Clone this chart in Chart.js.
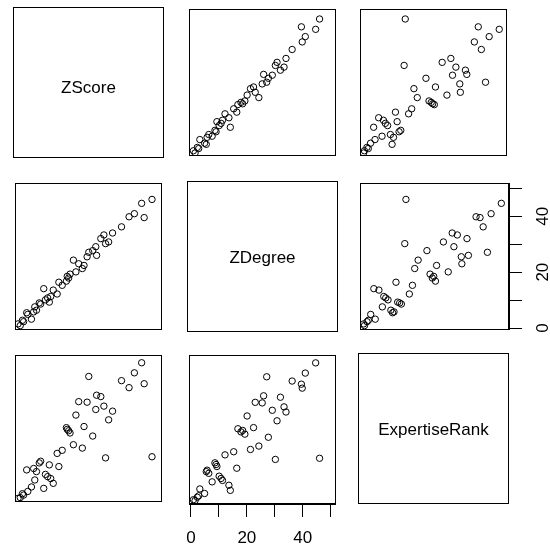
<!DOCTYPE html>
<html>
<head>
<meta charset="utf-8">
<script src="https://cdn.jsdelivr.net/npm/chart.js@4.4.1/dist/chart.umd.min.js"></script>
<style>
  body { margin: 0; background: #fff; width: 550px; height: 549px; overflow: hidden; position: relative; }
  .cell { position: absolute; }
</style>
</head>
<body>
<div id="matrix"></div>
<script>
// --- DATA ---
const varNames = ['ZScore', 'ZDegree', 'ExpertiseRank'];
const zScore = [44.6, 42.0, 25.7, 37.4, 45.5, 40.1, 28.5, 30.0, 22.1, 25.1, 31.1, 28.2, 34.2, 21.1, 32.8,
                24.0, 17.7, 18.5, 19.0, 27.1, 20.2, 23.4, 16.2, 14.4, 48.3, 31.7, 8.5, 11.6, 15.0, 3.5,
                7.0, 10.2, 12.1, 6.4, 13.0, 5.2, 9.6, 3.9, 2.4, 1.2, 0.4, 6.0, 8.0, 18.0, 2.0, 11.0];
const zDegree = [44.6, 40.9, 27.1, 36.2, 39.5, 39.8, 26.0, 32.0, 23.0, 25.5, 33.3, 29.1, 34.0, 20.1, 30.8,
                 22.4, 16.8, 17.9, 19.3, 27.7, 24.3, 21.3, 15.3, 12.2, 46.0, 30.2, 8.6, 9.3, 16.4, 5.5,
                 6.4, 10.1, 11.3, 7.6, 13.6, 3.2, 14.1, 4.9, 2.3, 0.9, 1.5, 5.8, 9.0, 18.5, 2.8, 10.8];
const expertiseRank = [49.1, 45.5, 44.2, 42.7, 41.6, 40.2, 37.5, 37.0, 35.2, 35.0, 33.6, 32.4, 31.8, 30.4, 28.7,
                       26.3, 25.9, 24.8, 24.0, 22.9, 19.8, 18.6, 17.8, 16.7, 15.5, 15.1, 13.9, 12.6, 12.0, 10.8,
                       10.2, 9.2, 7.7, 7.2, 6.0, 4.7, 4.2, 3.1, 1.8, 0.9, 0.6, 11.3, 13.3, 25.3, 2.3, 8.4];
const axisTicks = [0, 10, 20, 30, 40, 50];
const axisLabels = [0, 20, 40];
const axisRange = [-0.6, 51.8];

const vars = [zScore, zDegree, expertiseRank];

// --- LAYOUT ---
const colLeft = [13, 187, 358];
const rowTop = [7, 181, 353];
const SIZE = 151;
const PAD = 2;
const BOTTOM_AXIS = 45;   // height of ZDegree axis under column 2
const RIGHT_AXIS = 41;    // width of ZDegree axis right of row 2
const labelDy = [4, 0, 0];
const FONT = '"Liberation Sans", Arial, sans-serif';

// --- PLUGINS ---
const framePlugin = {
    id: 'frame',
    afterDraw(chart) {
        const { ctx, chartArea: a } = chart;
        ctx.save();
        ctx.strokeStyle = '#000';
        ctx.lineWidth = 1;
        ctx.strokeRect(Math.round(a.left) + 0.5, Math.round(a.top) + 0.5, Math.round(a.width) - 1, Math.round(a.height) - 1);
        ctx.restore();
    }
};

const diagLabelPlugin = {
    id: 'diagLabel',
    afterDraw(chart, args, opts) {
        if (!opts.text) return;
        const { ctx, chartArea: a } = chart;
        ctx.save();
        ctx.font = '17px ' + FONT;
        ctx.fillStyle = '#000';
        ctx.textAlign = 'center';
        ctx.textBaseline = 'alphabetic';
        ctx.fillText(opts.text, (a.left + a.right) / 2, (a.top + a.bottom) / 2 + 6 + (opts.dy || 0));
        ctx.restore();
    }
};

// R style side-4 labels: parallel to the axis, reading bottom to top
const rightLabelPlugin = {
    id: 'rightLabels',
    afterDraw(chart, args, opts) {
        if (!opts.show) return;
        const { ctx, chartArea: a } = chart;
        const scale = chart.scales.y;
        ctx.save();
        ctx.font = '17px ' + FONT;
        ctx.fillStyle = '#000';
        ctx.textAlign = 'center';
        ctx.textBaseline = 'middle';
        axisLabels.forEach(v => {
            ctx.save();
            ctx.translate(a.right + 34, scale.getPixelForValue(v));
            ctx.rotate(-Math.PI / 2);
            ctx.fillText(String(v), 0, 0);
            ctx.restore();
        });
        ctx.restore();
    }
};

const setTicks = (scale) => { scale.ticks = axisTicks.map(v => ({ value: v })); };

// --- BUILD PANELS ---
function makePanel(r, c) {
    const hasBottom = (r === 2 && c === 1);
    const hasRight = (r === 1 && c === 2);
    const w = SIZE + 2 * PAD + (hasRight ? RIGHT_AXIS - PAD : 0);
    const h = SIZE + 2 * PAD + (hasBottom ? BOTTOM_AXIS - PAD : 0);

    const div = document.createElement('div');
    div.className = 'cell';
    div.style.left = (colLeft[c] - PAD) + 'px';
    div.style.top = (rowTop[r] - PAD) + 'px';
    div.style.width = w + 'px';
    div.style.height = h + 'px';
    const canvas = document.createElement('canvas');
    div.appendChild(canvas);
    document.getElementById('matrix').appendChild(div);

    const points = (r === c) ? [] : vars[c].map((x, i) => ({ x: x, y: vars[r][i] }));

    const xScale = {
        display: hasBottom,
        min: axisRange[0], max: axisRange[1],
        afterBuildTicks: setTicks,
        grid: { drawOnChartArea: false, drawTicks: true, tickLength: 13, color: '#000', lineWidth: 1 },
        border: { display: true, color: '#000', width: 1 },
        ticks: {
            autoSkip: false, maxRotation: 0, padding: 11, color: '#000',
            font: { family: FONT, size: 17 },
            callback: (v) => axisLabels.includes(v) ? String(v) : ''
        }
    };
    // keep the plot box fixed: no extra room for the first/last tick label
    if (hasBottom) xScale.afterFit = (s) => { s.height = BOTTOM_AXIS; s.paddingLeft = 0; s.paddingRight = 0; };

    const yScale = {
        display: hasRight,
        position: 'right',
        min: axisRange[0], max: axisRange[1],
        afterBuildTicks: setTicks,
        grid: { drawOnChartArea: false, drawTicks: true, tickLength: 13, color: '#000', lineWidth: 1 },
        border: { display: true, color: '#000', width: 1 },
        ticks: { display: false }
    };
    if (hasRight) yScale.afterFit = (s) => { s.width = RIGHT_AXIS; s.paddingTop = 0; s.paddingBottom = 0; };

    new Chart(canvas.getContext('2d'), {
        type: 'scatter',
        data: {
            datasets: [{
                data: points,
                pointRadius: 3.2,
                pointHoverRadius: 3.2,
                borderWidth: 1,
                borderColor: '#000',
                backgroundColor: 'rgba(0,0,0,0)'
            }]
        },
        options: {
            responsive: true,
            maintainAspectRatio: false,
            animation: false,
            events: [],
            devicePixelRatio: 1,
            layout: { padding: { left: PAD, top: PAD, right: hasRight ? 0 : PAD, bottom: hasBottom ? 0 : PAD } },
            plugins: {
                legend: { display: false },
                tooltip: { enabled: false },
                diagLabel: { text: r === c ? varNames[r] : '', dy: labelDy[r] },
                rightLabels: { show: hasRight }
            },
            scales: { x: xScale, y: yScale }
        },
        plugins: [framePlugin, diagLabelPlugin, rightLabelPlugin]
    });
}

for (let r = 0; r < 3; r++) {
    for (let c = 0; c < 3; c++) makePanel(r, c);
}
</script>
</body>
</html>
